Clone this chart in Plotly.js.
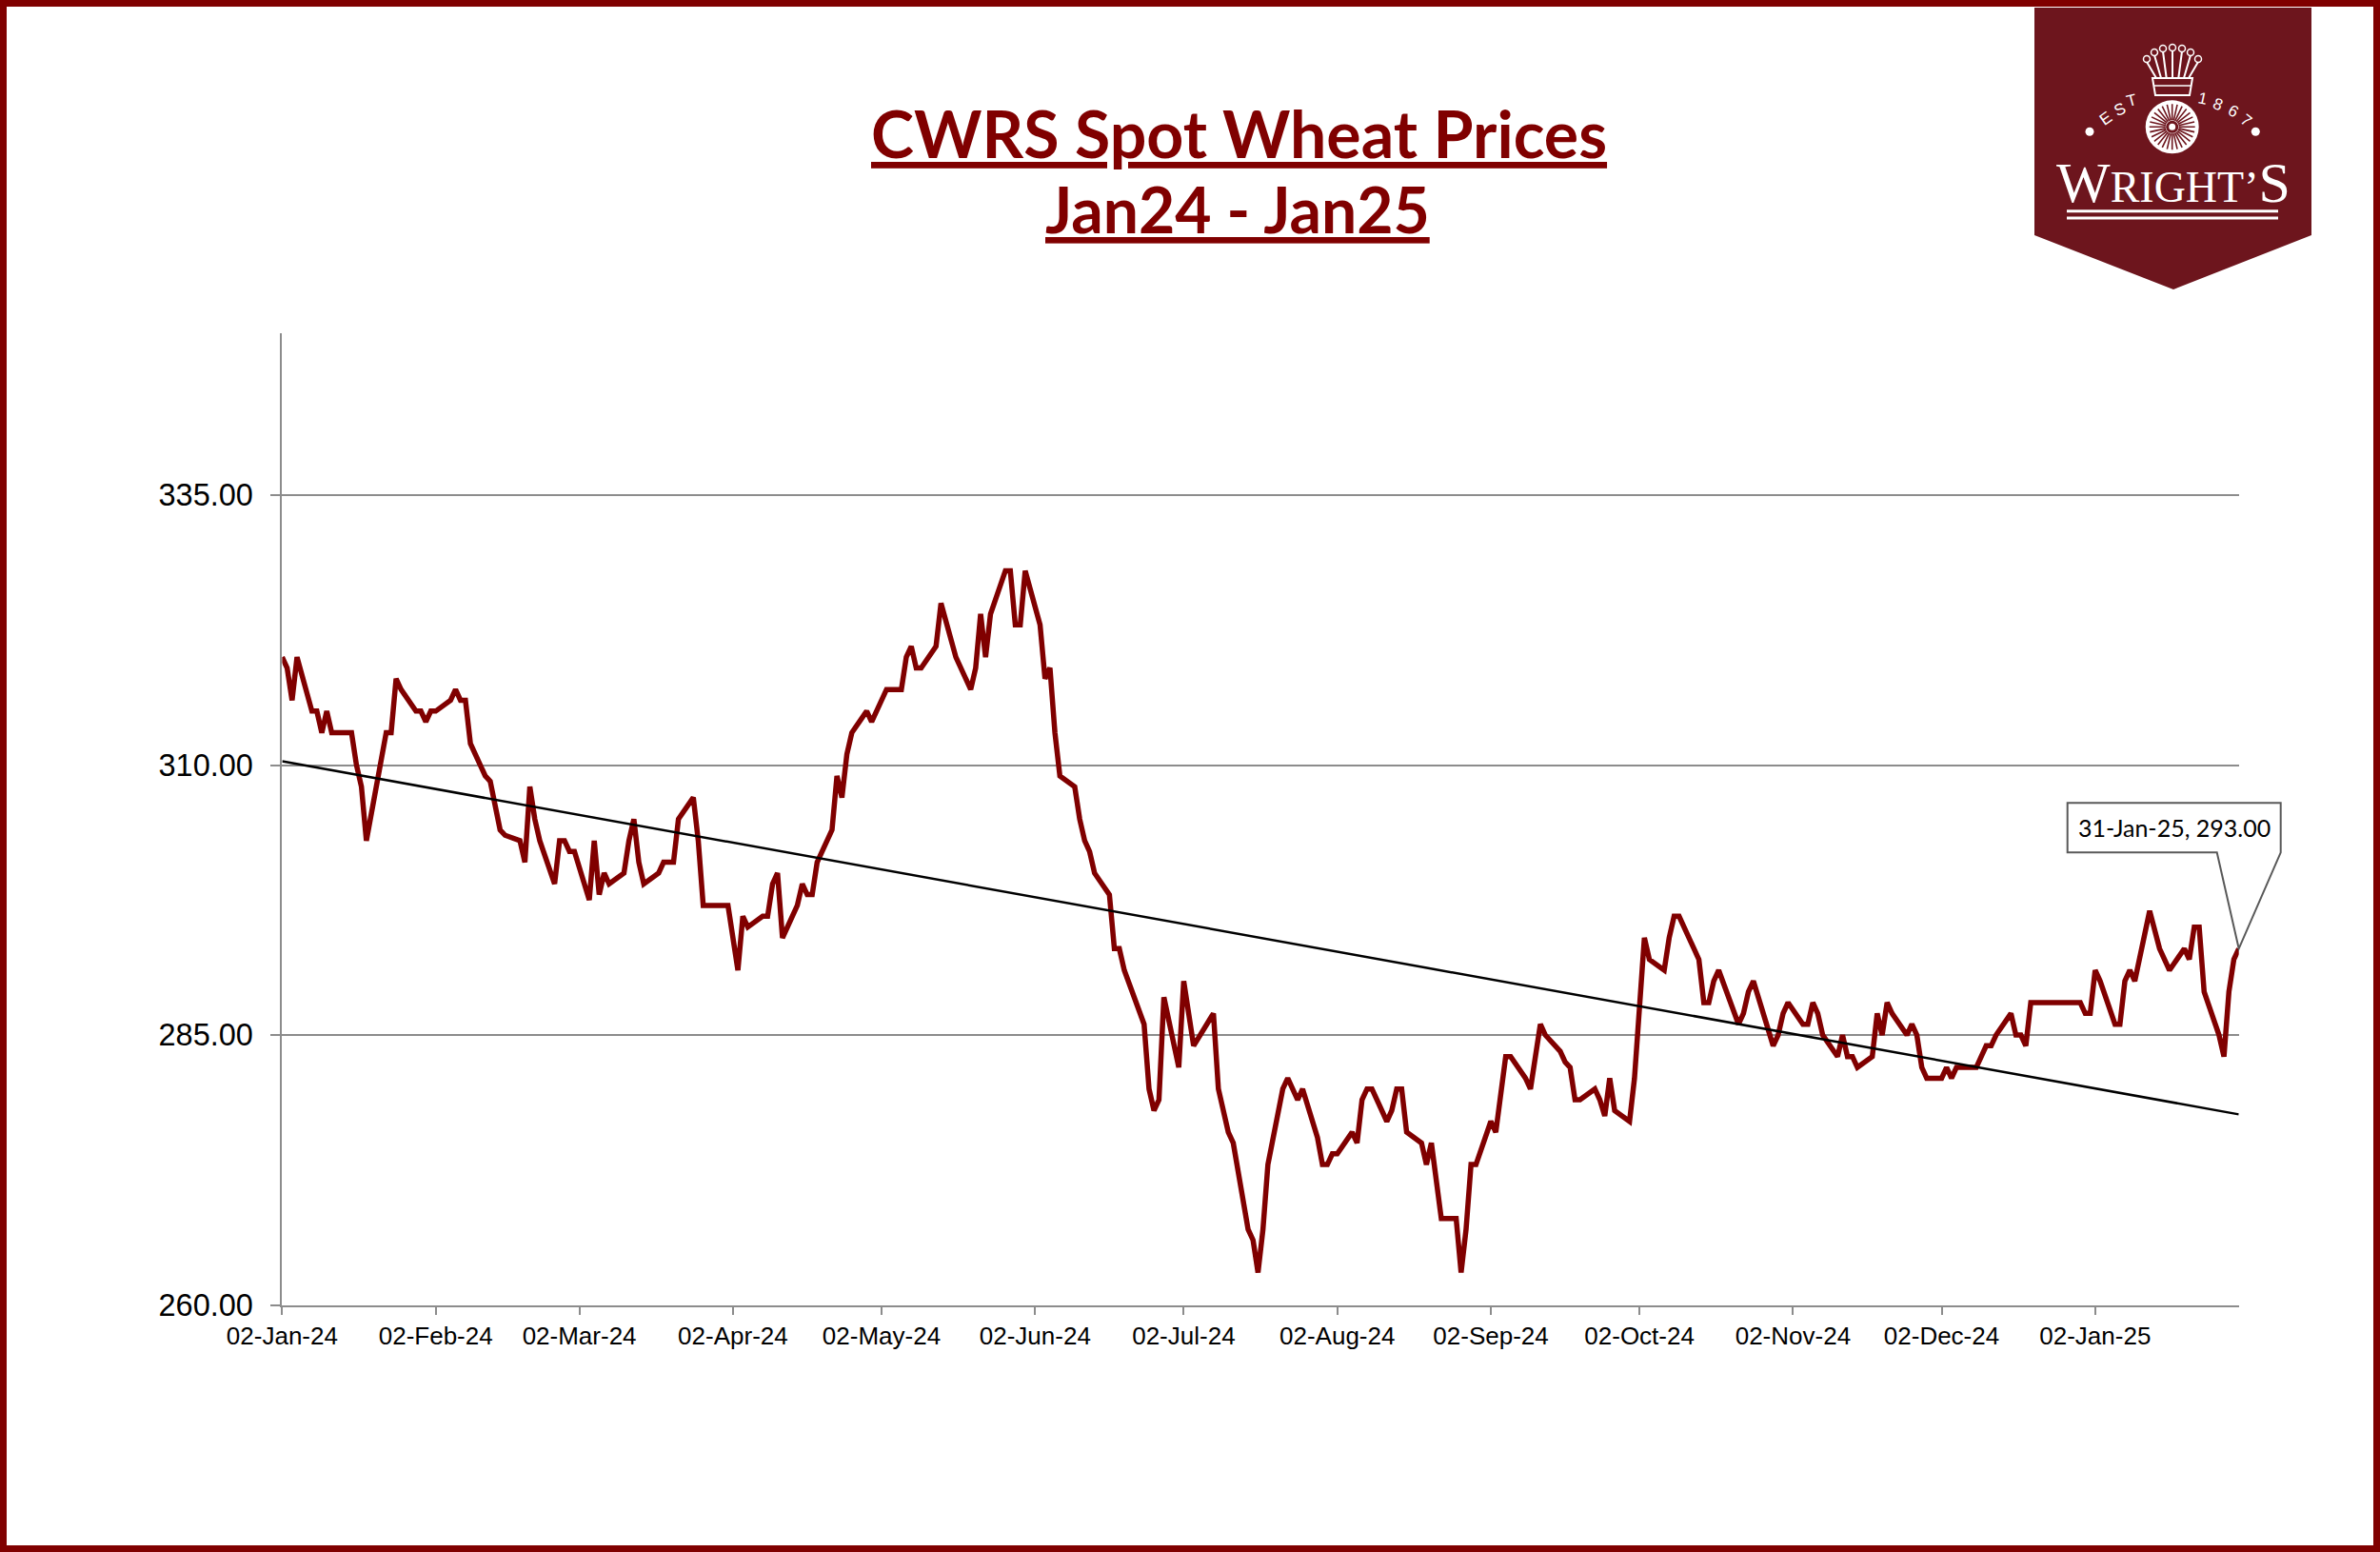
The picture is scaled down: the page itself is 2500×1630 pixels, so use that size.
<!DOCTYPE html>
<html>
<head>
<meta charset="utf-8">
<script src="https://cdn.plot.ly/plotly-3.0.1.min.js"></script>
<style>
  html, body { margin: 0; padding: 0; background: #ffffff; }
  #chart { width: 2500px; height: 1630px; }
</style>
</head>
<body>
<div id="chart"></div>
<script>
// CWRS spot price, one value per trading day (weekdays only)
var priceDates = [
    '2024-01-02','2024-01-03','2024-01-04','2024-01-05','2024-01-08','2024-01-09','2024-01-10','2024-01-11','2024-01-12',
    '2024-01-16','2024-01-17','2024-01-18','2024-01-19','2024-01-22','2024-01-23','2024-01-24','2024-01-25','2024-01-26',
    '2024-01-29','2024-01-30','2024-01-31','2024-02-01','2024-02-02','2024-02-05','2024-02-06','2024-02-07','2024-02-08',
    '2024-02-09','2024-02-12','2024-02-13','2024-02-14','2024-02-15','2024-02-16','2024-02-19','2024-02-20','2024-02-21',
    '2024-02-22','2024-02-23','2024-02-26','2024-02-27','2024-02-28','2024-02-29','2024-03-01','2024-03-04','2024-03-05',
    '2024-03-06','2024-03-07','2024-03-08','2024-03-11','2024-03-12','2024-03-13','2024-03-14','2024-03-15','2024-03-18',
    '2024-03-19','2024-03-21','2024-03-22','2024-03-25','2024-03-26','2024-03-27','2024-04-01','2024-04-03','2024-04-04',
    '2024-04-05','2024-04-08','2024-04-09','2024-04-10','2024-04-11','2024-04-12','2024-04-15','2024-04-16','2024-04-17',
    '2024-04-18','2024-04-19','2024-04-22','2024-04-23','2024-04-24','2024-04-25','2024-04-26','2024-04-29','2024-04-30',
    '2024-05-03','2024-05-06','2024-05-07','2024-05-08','2024-05-09','2024-05-10','2024-05-13','2024-05-14','2024-05-17',
    '2024-05-20','2024-05-21','2024-05-22','2024-05-23','2024-05-24','2024-05-27','2024-05-28','2024-05-29','2024-05-30',
    '2024-05-31','2024-06-03','2024-06-04','2024-06-05','2024-06-06','2024-06-07','2024-06-10','2024-06-11','2024-06-12',
    '2024-06-13','2024-06-14','2024-06-17','2024-06-18','2024-06-19','2024-06-20','2024-06-24','2024-06-25','2024-06-26',
    '2024-06-27','2024-06-28','2024-07-01','2024-07-02','2024-07-04','2024-07-08','2024-07-09','2024-07-11','2024-07-12',
    '2024-07-15','2024-07-16','2024-07-17','2024-07-18','2024-07-19','2024-07-22','2024-07-23','2024-07-25','2024-07-26',
    '2024-07-29','2024-07-30','2024-07-31','2024-08-01','2024-08-02','2024-08-05','2024-08-06','2024-08-07','2024-08-08',
    '2024-08-09','2024-08-12','2024-08-13','2024-08-14','2024-08-15','2024-08-16','2024-08-19','2024-08-20','2024-08-21',
    '2024-08-22','2024-08-23','2024-08-26','2024-08-27','2024-08-28','2024-08-29','2024-08-30','2024-09-02','2024-09-03',
    '2024-09-05','2024-09-06','2024-09-09','2024-09-10','2024-09-12','2024-09-13','2024-09-16','2024-09-17','2024-09-18',
    '2024-09-19','2024-09-20','2024-09-23','2024-09-24','2024-09-25','2024-09-26','2024-09-27','2024-09-30','2024-10-01',
    '2024-10-03','2024-10-04','2024-10-07','2024-10-08','2024-10-09','2024-10-10','2024-10-14','2024-10-15','2024-10-16',
    '2024-10-17','2024-10-18','2024-10-22','2024-10-23','2024-10-24','2024-10-25','2024-10-29','2024-10-30','2024-10-31',
    '2024-11-01','2024-11-04','2024-11-05','2024-11-06','2024-11-07','2024-11-08','2024-11-11','2024-11-12','2024-11-13',
    '2024-11-14','2024-11-15','2024-11-18','2024-11-19','2024-11-20','2024-11-21','2024-11-22','2024-11-25','2024-11-26',
    '2024-11-27','2024-11-28','2024-11-29','2024-12-02','2024-12-03','2024-12-04','2024-12-05','2024-12-09','2024-12-11',
    '2024-12-12','2024-12-13','2024-12-16','2024-12-17','2024-12-18','2024-12-19','2024-12-20','2024-12-30','2024-12-31',
    '2025-01-01','2025-01-02','2025-01-03','2025-01-06','2025-01-07','2025-01-08','2025-01-09','2025-01-10','2025-01-13',
    '2025-01-15','2025-01-17','2025-01-20','2025-01-21','2025-01-22','2025-01-23','2025-01-24','2025-01-27','2025-01-28',
    '2025-01-29','2025-01-30','2025-01-31'
];

var priceValues = [
    320, 319, 316, 320, 315, 315, 313, 315, 313,
    313, 310, 308, 303, 311, 313, 313, 318, 317,
    315, 315, 314, 315, 315, 316, 317, 316, 316,
    312, 309, 308.5, 306, 304, 303.5, 303, 301, 308,
    305, 303, 299, 303, 303, 302, 302, 297.5, 303,
    298, 300, 299, 300, 303, 305, 301, 299, 300,
    301, 301, 305, 307, 303, 297, 297, 291, 296,
    295, 296, 296, 299, 300, 294, 297, 299, 298,
    298, 301, 304, 309, 307, 311, 313, 315, 314,
    317, 317, 320, 321, 319, 319, 321, 325, 320,
    317, 319, 324, 320, 324, 328, 328, 323, 323,
    328, 323, 318, 319, 313, 309, 308, 305, 303,
    302, 300, 298, 293, 293, 291, 286, 280, 278,
    279, 288.5, 282, 290, 284, 287, 280, 276, 275,
    267, 266, 263, 267, 273, 280, 281, 279, 280,
    275.5, 273, 273, 274, 274, 276, 275, 279, 280,
    280, 277, 278, 280, 280, 276, 275, 273, 275,
    271, 268, 268, 263, 267, 273, 273, 277, 276,
    283, 283, 281, 280, 286, 285, 283.5, 282.5, 282,
    279, 279, 280, 279, 277.5, 281, 278, 277, 281,
    294, 292, 291, 294, 296, 296, 292, 288, 288,
    290, 291, 286, 287, 289, 290, 284, 285, 287,
    288, 286, 286, 288, 287, 285, 283, 285, 283,
    283, 282, 283, 287, 285, 288, 287, 285, 286,
    285, 282, 281, 281, 282, 281, 282, 282, 284,
    284, 285, 287, 285, 285, 284, 288, 288, 287,
    287, 291, 290, 286, 286, 290, 291, 290, 296.5,
    293, 291, 293, 292, 295, 295, 289, 285, 283,
    289, 292, 293
];

// linear trendline as drawn on the original, start and end of the period
var trendDates = ['2024-01-02', '2025-01-31'];
var trendValues = [310.35, 277.65];

var yTicks = [260, 285, 310, 335];
var yRange = [260, 350];

var W = 2500, H = 1630;
var maroon = '#800000';
var banner = '#6d151d';

// pixel -> paper helpers (margins are zero, so paper == full figure)
function fx(x) { return x / W; }
function fy(y) { return 1 - y / H; }
function pathOf(pts, close) {
    var s = '';
    pts.forEach(function(p, i) {
        s += (i === 0 ? 'M' : 'L') + fx(p[0]).toFixed(5) + ',' + fy(p[1]).toFixed(5) + ' ';
    });
    return s + (close ? 'Z' : '');
}
function circle(cx, cy, r, fill, line, lw) {
    return {type: 'circle', xref: 'paper', yref: 'paper', layer: 'above',
            x0: fx(cx - r), x1: fx(cx + r), y0: fy(cy + r), y1: fy(cy - r),
            fillcolor: fill, line: {color: line || fill, width: lw || 0}};
}

var xDomain = [fx(296.4), fx(2351.7)];
var yDomain = [fy(1370.5), fy(350)];

var shapes = [];

// outer frame
shapes.push({type: 'rect', xref: 'paper', yref: 'paper', layer: 'above',
             x0: fx(3.5), x1: fx(2496.5), y0: fy(1626.5), y1: fy(3.5),
             line: {color: maroon, width: 7}});

// logo banner
shapes.push({type: 'path', xref: 'paper', yref: 'paper', layer: 'above',
             path: pathOf([[2137, 8], [2428, 8], [2428, 247], [2283, 304], [2137, 247]], true),
             fillcolor: banner, line: {width: 0}});

// crown (outline only)
var crownBalls = [[2255, 62], [2263, 55], [2272, 51], [2282, 50], [2292, 51], [2301, 55], [2309, 62]];
var crownPath = '';
crownBalls.forEach(function(b) {
    crownPath += pathOf([[b[0], b[1] + 3], [2265 + (b[0] - 2255) * 0.63, 82]], false);
});
crownPath += pathOf([[2261, 82], [2303, 82], [2300, 100], [2264, 100]], true);
shapes.push({type: 'path', xref: 'paper', yref: 'paper', layer: 'above',
             path: crownPath, line: {color: '#ffffff', width: 2}});
crownBalls.forEach(function(b) { shapes.push(circle(b[0], b[1], 3.5, banner, '#ffffff', 1.5)); });
shapes.push({type: 'path', xref: 'paper', yref: 'paper', layer: 'above',
             path: pathOf([[2263, 90], [2301, 90]], false), line: {color: '#ffffff', width: 1.5}});

// wheel
var wcx = 2281.7, wcy = 133.3;
shapes.push(circle(wcx, wcy, 28, '#ffffff'));
var spokes = '';
for (var k = 0; k < 28; k++) {
    var a = k * Math.PI * 2 / 28;
    spokes += pathOf([[wcx + 7 * Math.cos(a), wcy + 7 * Math.sin(a)],
                      [wcx + 24 * Math.cos(a), wcy + 24 * Math.sin(a)]], false);
}
shapes.push({type: 'path', xref: 'paper', yref: 'paper', layer: 'above',
             path: spokes, line: {color: banner, width: 1.6}});
shapes.push(circle(wcx, wcy, 6.5, banner));
shapes.push(circle(wcx, wcy, 3.5, '#ffffff'));
shapes.push(circle(2195, 138.3, 4.5, '#ffffff'));
shapes.push(circle(2369.3, 138.3, 4.5, '#ffffff'));

// rules under the name
[221.7, 229].forEach(function(yy) {
    shapes.push({type: 'path', xref: 'paper', yref: 'paper', layer: 'above',
                 path: pathOf([[2171, yy], [2393, yy]], false), line: {color: '#ffffff', width: 3}});
});

var lastDate = priceDates[priceDates.length - 1];
var lastValue = priceValues[priceValues.length - 1];

// the last date is the right end of the x range; place the last value on the y domain
var lastPx = xDomain[1];
var lastPy = yDomain[0] + (lastValue - yRange[0]) / (yRange[1] - yRange[0]) * (yDomain[1] - yDomain[0]);

// data callout for the last point, offsets in pixels from that point (paper ref so it is not clipped)
shapes.push({type: 'path', xref: 'paper', yref: 'paper', layer: 'above',
             xsizemode: 'pixel', ysizemode: 'pixel', xanchor: lastPx, yanchor: lastPy,
             path: 'M-180,153 L44,153 L44,101 L0,0 L-23,101 L-180,101 Z',
             fillcolor: '#ffffff', line: {color: '#595959', width: 2}});

function fmtDate(s) {
    var m = ['Jan','Feb','Mar','Apr','May','Jun','Jul','Aug','Sep','Oct','Nov','Dec'];
    var p = s.split('-');
    return p[2] + '-' + m[parseInt(p[1], 10) - 1] + '-' + p[0].slice(2);
}

var annotations = [
    {xref: 'paper', yref: 'paper', x: fx(1301), y: fy(140), xanchor: 'center', yanchor: 'middle',
     text: '<u>CWRS Spot Wheat Prices</u>', showarrow: false,
     font: {family: 'Lato, sans-serif', size: 68, color: maroon, weight: 700}},
    {xref: 'paper', yref: 'paper', x: fx(1300), y: fy(219), xanchor: 'center', yanchor: 'middle',
     text: '<u>Jan24 - Jan25</u>', showarrow: false,
     font: {family: 'Lato, sans-serif', size: 66, color: maroon, weight: 700}},
    {xref: 'paper', yref: 'paper', x: lastPx, y: lastPy, xshift: -68, yshift: 127,
     xanchor: 'center', yanchor: 'middle', showarrow: false,
     text: fmtDate(lastDate) + ', ' + lastValue.toFixed(2),
     font: {family: 'Lato, sans-serif', size: 25, color: '#000000'}},
    {xref: 'paper', yref: 'paper', x: fx(2282.5), y: fy(192), xanchor: 'center', yanchor: 'middle',
     text: 'W<span style="font-size:46px">RIGHT\u2019</span>S', showarrow: false,
     font: {family: 'Liberation Serif, serif', size: 60, color: '#ffffff'}}
];

// "EST" and "1867" set along the arc above the wheel
var arcLetters = [
    ['E', 2211.7, 124, -35], ['S', 2226, 115, -25], ['T', 2239.3, 106, -15],
    ['1', 2313.3, 104, 12], ['8', 2329.3, 109.3, 22], ['6', 2345, 116.7, 30], ['7', 2359.3, 126, 38]
];
arcLetters.forEach(function(l) {
    annotations.push({xref: 'paper', yref: 'paper', x: fx(l[1]), y: fy(l[2]), xanchor: 'center', yanchor: 'middle',
                      text: l[0], textangle: l[3], showarrow: false,
                      font: {family: 'Liberation Sans, sans-serif', size: 17, color: '#ffffff'}});
});

var data = [
    {x: priceDates, y: priceValues, type: 'scatter', mode: 'lines', name: 'CWRS',
     line: {color: maroon, width: 5.5}},
    {x: trendDates, y: trendValues, type: 'scatter', mode: 'lines', name: 'Trend',
     line: {color: '#000000', width: 2.5}}
];

var layout = {
    width: W,
    height: H,
    margin: {l: 0, r: 0, t: 0, b: 0},
    paper_bgcolor: '#ffffff',
    plot_bgcolor: '#ffffff',
    showlegend: false,
    xaxis: {
        type: 'date',
        domain: xDomain,
        range: [priceDates[0], lastDate],
        tick0: priceDates[0],
        dtick: 'M1',
        tickformat: '%d-%b-%y',
        showgrid: false,
        zeroline: false,
        showline: true,
        linecolor: '#8c8c8c',
        linewidth: 2,
        ticks: 'outside',
        ticklen: 8,
        tickwidth: 2,
        tickcolor: '#8c8c8c',
        tickfont: {family: 'Liberation Sans, Arial, sans-serif', size: 26, color: '#000000'}
    },
    yaxis: {
        domain: yDomain,
        range: yRange,
        tickvals: yTicks,
        tickformat: '.2f',
        showgrid: true,
        gridcolor: '#8c8c8c',
        gridwidth: 2,
        zeroline: false,
        showline: true,
        linecolor: '#8c8c8c',
        linewidth: 2,
        ticks: 'outside',
        ticklen: 10,
        tickwidth: 2,
        tickcolor: '#8c8c8c',
        ticklabelstandoff: 12,
        tickfont: {family: 'Liberation Sans, Arial, sans-serif', size: 32.5, color: '#000000'}
    },
    shapes: shapes,
    annotations: annotations
};

Plotly.newPlot('chart', data, layout, {staticPlot: true, displayModeBar: false});
</script>
</body>
</html>
